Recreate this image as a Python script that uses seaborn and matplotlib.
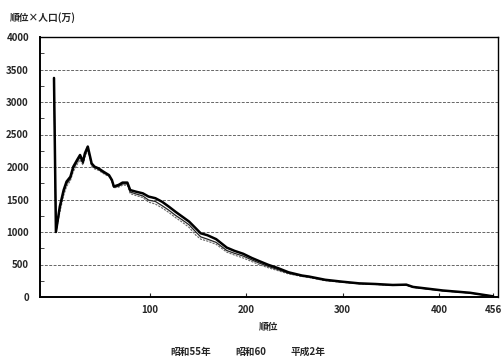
import seaborn as sns
import matplotlib.pyplot as plt
import matplotlib.ticker as mticker
import pandas as pd

# rank of city
ranks = [1, 3, 7, 11, 14, 18, 21, 25, 28, 31, 33, 36, 38, 40, 43, 47, 52, 58, 61, 63,
         68, 72, 77, 80, 86, 93, 99, 106, 113, 120, 127, 134, 141, 148, 153, 160, 169,
         180, 188, 197, 206, 214, 223, 233, 244, 258, 265, 282, 300, 317, 334, 352,
         366, 373, 404, 432, 456]

# rank x population (10 thousand)
s55 = [3300, 1000, 1300, 1560, 1700, 1790, 1930, 2040, 2110, 2030, 2150, 2250, 2140, 2010,
       1970, 1950, 1900, 1850, 1780, 1680, 1690, 1720, 1720, 1590, 1560, 1530, 1460, 1430,
       1370, 1300, 1220, 1150, 1070, 950, 890, 860, 810, 690, 645, 600, 545, 495, 450,
       405, 355, 315, 300, 250, 225, 203, 193, 178, 180, 148, 94, 60, 10]
s60 = [3340, 1000, 1350, 1610, 1740, 1820, 1970, 2080, 2150, 2055, 2180, 2290, 2165, 2035,
       1990, 1965, 1915, 1865, 1790, 1690, 1705, 1740, 1740, 1615, 1585, 1555, 1490, 1470,
       1405, 1335, 1255, 1185, 1110, 1000, 925, 890, 840, 715, 672, 630, 570, 520, 470,
       422, 366, 322, 307, 257, 230, 206, 196, 181, 184, 150, 96, 62, 10]
h2 = [3370, 1000, 1390, 1645, 1775, 1850, 2005, 2110, 2185, 2080, 2210, 2315, 2185, 2055,
      2005, 1980, 1930, 1875, 1800, 1700, 1725, 1760, 1760, 1645, 1620, 1595, 1545, 1520,
      1465, 1390, 1310, 1235, 1160, 1055, 980, 950, 890, 760, 710, 665, 600, 550, 495,
      445, 380, 330, 315, 265, 235, 210, 200, 185, 190, 155, 100, 65, 10]

labels = ['昭和55年', '昭和60', '平成2年']
xticks = [100, 200, 300, 400, 456]

sns.set_style('white')
plt.rcParams['font.family'] = ['Noto Sans CJK JP', 'DejaVu Sans']

fig = plt.figure(figsize=(5.03, 3.64), dpi=100)
ax = fig.add_axes([40 / 503, 1 - 297 / 364, 458 / 503, 260 / 364])

styles = [dict(color='0.4', linewidth=0.8, linestyle=(0, (2, 1))),
          dict(color='0.15', linewidth=0.9, linestyle='-'),
          dict(color='black', linewidth=1.8, linestyle='-')]
for name, vals, st in zip(labels, [s55, s60, h2], styles):
    sns.lineplot(x=ranks, y=vals, ax=ax, label=name, **st)

ax.set_xlim(-13.5, 461)
ax.set_ylim(0, 4000)
ax.set_xticks(xticks)
ax.yaxis.set_major_locator(mticker.MultipleLocator(500))
ax.yaxis.set_minor_locator(mticker.MultipleLocator(250))
ax.tick_params(axis='y', which='major', direction='in', length=0, labelsize=7, pad=8)
ax.tick_params(axis='y', which='minor', direction='in', length=3, left=True)
ax.tick_params(axis='x', direction='in', length=3, labelsize=7, pad=6, bottom=True)
for t in ax.get_xticklabels() + ax.get_yticklabels():
    t.set_fontweight('bold')

ax.grid(axis='y', which='major', color='0.4', linestyle=(0, (3, 1.5)), linewidth=0.7)
ax.set_axisbelow(True)
for sp in ax.spines.values():
    sp.set_visible(True)
    sp.set_color('black')
ax.spines['left'].set_linewidth(1.4)
ax.spines['bottom'].set_linewidth(1.4)
ax.spines['top'].set_linewidth(1.0)
ax.spines['right'].set_linewidth(1.0)

ax.set_xlabel('順位', fontsize=7, fontweight='bold', labelpad=5)
ax.set_ylabel('')
fig.text(10 / 503, 1 - 18 / 364, '順位×人口(万)', fontsize=7, fontweight='bold', va='center')

ax.legend_.remove()
handles, labs = ax.get_legend_handles_labels()
fig.legend(handles, labs, loc='center', bbox_to_anchor=(248 / 503, 1 - 352 / 364),
           ncol=3, frameon=False, handlelength=0, handletextpad=0,
           columnspacing=2.5, prop={'weight': 'bold', 'size': 7})

plt.savefig('out.png', dpi=100)
